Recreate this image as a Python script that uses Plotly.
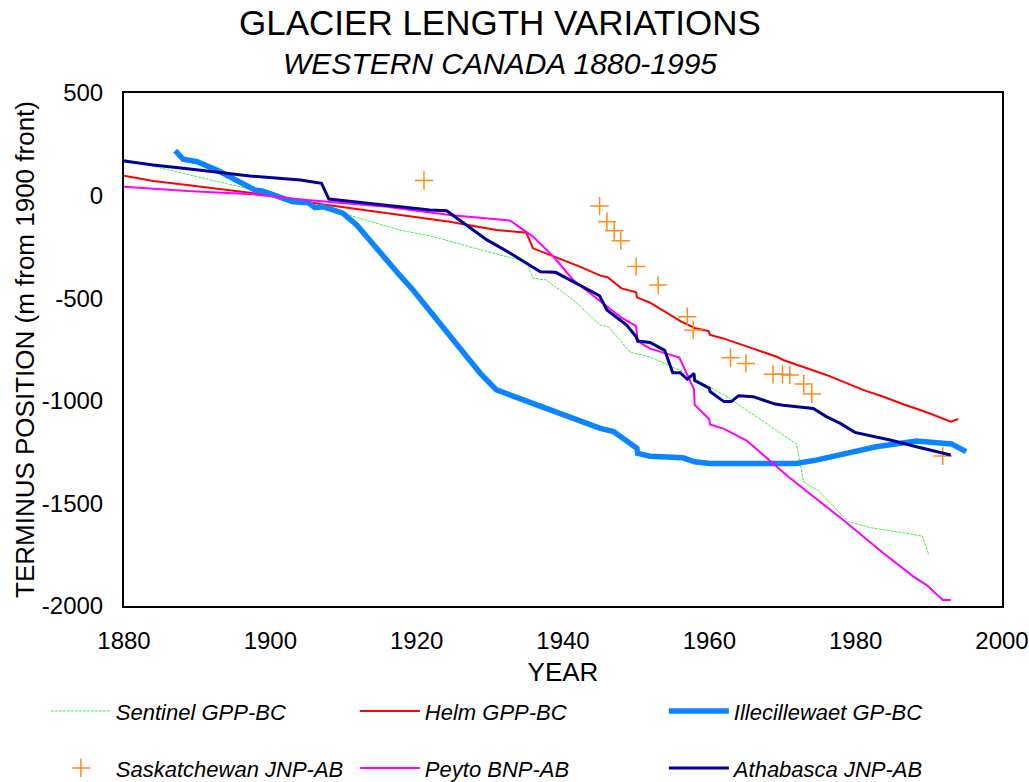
"""Glacier length variations, Western Canada 1880-1995, as a Plotly figure.

Terminus positions are relative to the 1900 front. Saskatchewan is drawn as
discrete survey marks; the other glaciers as continuous records.
"""

import plotly.graph_objects as go

# --- data (year, terminus position in m) ----------------------------------
sentinel_years = [1880, 1897.7, 1904.1, 1909.1, 1917.7, 1922.3, 1929.1, 1935.0, 1935.9,
                  1937.7, 1941.4, 1945.1, 1946.2, 1949.2, 1951.9, 1956.2, 1962.4, 1971.9,
                  1972.9, 1974.9, 1979.0, 1982.0, 1987.0, 1989.1, 1990.0]
sentinel_pos = [177, 27, -33, -78, -168, -200, -268, -322, -403,
                -411, -509, -631, -639, -764, -786, -855, -980, -1210,
                -1397, -1438, -1589, -1618, -1646, -1659, -1751]

helm_years = [1880, 1884, 1888.6, 1898.6, 1906.8, 1915.9, 1924.5, 1930.9, 1935.0, 1935.9,
              1939.1, 1942.3, 1945.1, 1946.1, 1948.0, 1950.0, 1950.1, 1951.9, 1954.2,
              1956.1, 1958.0, 1959.9, 1960.1, 1961.9, 1965.6, 1969.2, 1970.1, 1972.8,
              1976.0, 1981.0, 1983.8, 1986.5, 1989.7, 1993.0, 1994.0]
helm_pos = [97, 71, 52, 8, -41, -86, -127, -168, -181, -257,
            -301, -346, -390, -398, -452, -471, -496, -522, -571,
            -613, -645, -660, -679, -696, -741, -785, -801, -834,
            -874, -947, -980, -1017, -1056, -1102, -1089]

illecillewaet_years = [1887.0, 1888.1, 1890.0, 1893.1, 1897.9, 1899.0, 1903.1, 1905.2, 1906.1,
                       1907.2, 1909.9, 1911.8, 1917.7, 1919.5, 1925.0, 1928.7, 1930.9, 1936.9,
                       1940.5, 1945.1, 1946.9, 1949.2, 1950.1, 1950.2, 1951.9, 1956.4, 1958.0,
                       1960.1, 1971.9, 1974.6, 1981.0, 1982.8, 1988.3, 1991.9, 1993.1, 1995.1]
illecillewaet_pos = [219, 177, 165, 117, 27, 22, -30, -35, -59,
                     -54, -86, -143, -389, -460, -704, -866, -947, -1029,
                     -1077, -1134, -1150, -1207, -1231, -1256, -1270, -1278, -1297,
                     -1305, -1305, -1289, -1240, -1224, -1196, -1204, -1210, -1248]

saskatchewan_years = [1921.0, 1945.0, 1946.0, 1947.0, 1947.9, 1950.0, 1953.0, 1957.0, 1957.8,
                      1962.9, 1965.0, 1968.7, 1970.0, 1971.0, 1972.9, 1974.0, 1991.9]
saskatchewan_pos = [74, -51, -127, -171, -220, -346, -436, -590, -655,
                    -790, -818, -871, -871, -874, -918, -967, -1269]

peyto_years = [1880, 1888.6, 1897.7, 1905.0, 1915.9, 1924.5, 1932.8, 1935.0, 1935.9, 1938.7,
               1941.4, 1943.7, 1946.0, 1948.0, 1950.0, 1950.2, 1951.9, 1955.9, 1957.9,
               1958.0, 1960.0, 1960.1, 1962.0, 1965.1, 1970.8, 1978.3, 1983.8, 1987.9,
               1989.7, 1991.9, 1993.0]
peyto_pos = [43, 22, 6, -21, -54, -95, -122, -176, -200, -298,
             -411, -476, -541, -595, -636, -709, -746, -789, -944,
             -1020, -1090, -1115, -1137, -1194, -1370, -1581, -1743, -1857,
             -1898, -1971, -1971]

athabasca_years = [1880, 1884.0, 1889.0, 1897.2, 1904.1, 1907.0, 1908.0, 1911.3, 1917.7,
                   1921.8, 1924.1, 1929.6, 1932.8, 1936.9, 1939.0, 1941.0, 1945.0, 1946.0,
                   1948.7, 1950.0, 1950.2, 1951.9, 1953.9, 1955.0, 1956.0, 1957.0, 1957.9,
                   1958.0, 1960.0, 1960.1, 1962.0, 1963.0, 1964.0, 1966.0, 1969.0, 1970.1,
                   1972.8, 1974.2, 1976.0, 1977.9, 1979.9, 1982.0, 1984.7, 1988.3, 1990.6,
                   1993.0]
athabasca_pos = [169, 149, 130, 96, 76, 60, -17, -30, -54,
                 -70, -74, -216, -281, -371, -374, -411, -488, -557,
                 -631, -688, -709, -716, -754, -863, -863, -895, -866,
                 -901, -939, -955, -1004, -1004, -975, -980, -1016, -1022,
                 -1034, -1037, -1077, -1110, -1154, -1170, -1191, -1224, -1245,
                 -1264]

x_ticks = [1880, 1900, 1920, 1940, 1960, 1980, 2000]
y_ticks = [500, 0, -500, -1000, -1500, -2000]
# plain hyphen minus, as in the original chart
y_tick_labels = ["500", "0", "-500", "-1000", "-1500", "-2000"]

_FONT = "Liberation Sans, Arial, sans-serif"

fig = go.Figure()

# row 1 of the legend
fig.add_trace(go.Scatter(
    x=sentinel_years, y=sentinel_pos, mode="lines", name="Sentinel GPP-BC",
    line={"color": "#44ee44", "width": 1, "dash": "3px,1px"}, legend="legend",
))
fig.add_trace(go.Scatter(
    x=helm_years, y=helm_pos, mode="lines", name="Helm GPP-BC",
    line={"color": "#ff0000", "width": 2}, legend="legend",
))
fig.add_trace(go.Scatter(
    x=illecillewaet_years, y=illecillewaet_pos, mode="lines", name="Illecillewaet GP-BC",
    line={"color": "#0a84ff", "width": 5.5}, legend="legend",
))
# row 2 of the legend
fig.add_trace(go.Scatter(
    x=saskatchewan_years, y=saskatchewan_pos, mode="markers", name="Saskatchewan JNP-AB",
    marker={"symbol": "cross-thin", "size": 13, "line": {"color": "#ff8c1a", "width": 1.5}},
    legend="legend2",
))
fig.add_trace(go.Scatter(
    x=peyto_years, y=peyto_pos, mode="lines", name="Peyto BNP-AB",
    line={"color": "#ff00ff", "width": 2}, legend="legend2",
))
fig.add_trace(go.Scatter(
    x=athabasca_years, y=athabasca_pos, mode="lines", name="Athabasca JNP-AB",
    line={"color": "#000099", "width": 3}, legend="legend2",
))

# item pitch in a horizontal legend = entrywidth + itemwidth + 15
_legend_common = {
    "orientation": "h",
    "xref": "paper",
    "x": -0.089,
    "xanchor": "left",
    "yanchor": "middle",
    "entrywidth": 234,
    "entrywidthmode": "pixels",
    "itemwidth": 60,
    "bgcolor": "rgba(0,0,0,0)",
    "font": {"family": _FONT, "size": 22, "color": "#000000", "style": "italic"},
    "traceorder": "normal",
}

fig.update_layout(
    width=1029,
    height=782,
    margin={"l": 124, "r": 27, "t": 93, "b": 176, "autoexpand": False},
    plot_bgcolor="white",
    paper_bgcolor="white",
    font={"family": _FONT, "size": 24, "color": "#000000"},
    showlegend=True,
    legend={**_legend_common, "y": -0.205},
    legend2={**_legend_common, "y": -0.316},
    xaxis={
        "range": [1880, 2000],
        "tickvals": x_ticks,
        "showgrid": False,
        "zeroline": False,
        "showline": True,
        "linecolor": "#000000",
        "linewidth": 2,
        "mirror": True,
        "ticks": "",
        "automargin": False,
        "ticklabelstandoff": 12,
        "title": {"text": "YEAR", "standoff": 10, "font": {"size": 26}},
    },
    yaxis={
        "range": [-2000, 500],
        "tickvals": y_ticks,
        "ticktext": y_tick_labels,
        "showgrid": False,
        "zeroline": False,
        "showline": True,
        "linecolor": "#000000",
        "linewidth": 2,
        "mirror": True,
        "ticks": "",
        "automargin": False,
        "ticklabelstandoff": 14,
        "title": {"text": "TERMINUS POSITION (m from 1900 front)", "standoff": 0,
                  "font": {"size": 26}},
    },
)

fig.add_annotation(
    text="GLACIER LENGTH VARIATIONS", xref="paper", yref="paper",
    x=0.428, y=1.138, xanchor="center", yanchor="middle", showarrow=False,
    font={"family": _FONT, "size": 35},
)
fig.add_annotation(
    text="<i>WESTERN CANADA 1880-1995</i>", xref="paper", yref="paper",
    x=0.428, y=1.058, xanchor="center", yanchor="middle", showarrow=False,
    font={"family": _FONT, "size": 30},
)

# the page's default 8px body margin would push the figure off the 1029x782 window
fig.write_html(
    "out.html",
    config={"displayModeBar": False},
    post_script="document.body.style.margin = '0';",
)
